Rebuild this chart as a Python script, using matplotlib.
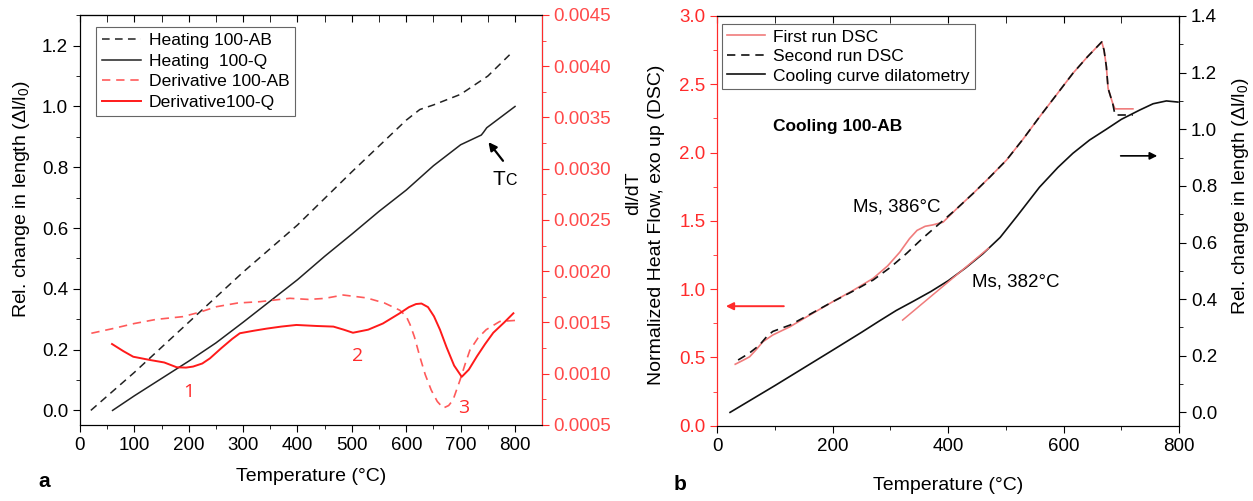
import matplotlib
matplotlib.use("Agg")
import matplotlib.pyplot as plt
from matplotlib.ticker import MultipleLocator

plt.rcParams['font.family'] = ['Liberation Sans', 'DejaVu Sans']
plt.rcParams['mathtext.fontset'] = 'custom'
plt.rcParams['mathtext.rm'] = 'Liberation Sans'
plt.rcParams['mathtext.it'] = 'Liberation Sans:italic'

RED = '#ff2b2b'
PINK = '#f07c7c'

# ---- panel a: heating dilatometry ----
heat_ab_T = [20, 100, 200, 300, 400, 500, 550, 600, 625, 650, 700, 750, 790]
heat_ab_L = [0.0, 0.125, 0.29, 0.455, 0.61, 0.785, 0.87, 0.955, 0.99, 1.005, 1.04, 1.10, 1.17]

heat_q_T = [60, 100, 150, 200, 250, 300, 350, 400, 450, 500, 550, 600, 650, 700, 738, 742, 748, 800]
heat_q_L = [0.0, 0.048, 0.105, 0.162, 0.222, 0.29, 0.36, 0.43, 0.507, 0.58, 0.655, 0.725, 0.805,
            0.874, 0.906, 0.915, 0.93, 1.0]

der_ab_T = [21, 60, 100, 140, 189, 220, 251, 290, 331, 386, 420, 450, 484, 527, 560, 588, 600,
            607, 615, 625, 635, 646, 657, 668, 678, 686, 699, 708, 717, 732, 747, 772, 800]
der_ab_D = [0.001395, 0.00144, 0.00149, 0.00153, 0.001557, 0.0016, 0.001654, 0.00169, 0.001703,
            0.001736, 0.001725, 0.001735, 0.001768, 0.00174, 0.00169, 0.00162, 0.00156, 0.00148,
            0.00136, 0.001166, 0.00099, 0.00084, 0.00073, 0.000665, 0.00069, 0.000744, 0.00094,
            0.00109, 0.00123, 0.00135, 0.00143, 0.00151, 0.00152]

der_q_T = [59, 80, 98, 129, 155, 178, 195, 208, 225, 239, 260, 280, 294, 320, 343, 370, 398, 435,
           466, 485, 502, 530, 557, 588, 605, 618, 628, 640, 651, 662, 674, 688, 702, 715, 730, 745,
           760, 780, 797]
der_q_D = [0.00129, 0.00122, 0.001166, 0.001134, 0.00111, 0.001063, 0.00106, 0.00107, 0.0011,
           0.00115, 0.00125, 0.00134, 0.001395, 0.00142, 0.00144, 0.00146, 0.001476, 0.001466,
           0.00146, 0.00143, 0.0014, 0.00143, 0.00149, 0.00159, 0.00165, 0.00168, 0.001685,
           0.00165, 0.00156, 0.00143, 0.00126, 0.00108, 0.00097, 0.00104, 0.00117, 0.00129,
           0.0014, 0.0015, 0.00159]

# ---- panel b: cooling DSC + dilatometry ----
dsc1_T = [31, 45, 56, 68, 79, 96, 126, 160, 200, 235, 270, 295, 316, 333, 346, 360, 373, 391,
          415, 443, 472, 501, 530, 558, 587, 616, 641, 666, 670, 674, 677, 685, 689, 720]
dsc1_H = [0.45, 0.48, 0.505, 0.56, 0.615, 0.664, 0.725, 0.81, 0.908, 0.99, 1.079, 1.17, 1.27,
          1.37, 1.43, 1.46, 1.47, 1.49, 1.59, 1.70, 1.82, 1.945, 2.10, 2.26, 2.42, 2.58, 2.70,
          2.81, 2.75, 2.63, 2.47, 2.36, 2.32, 2.32]

dsc2_T = [36, 55, 73, 85, 96, 126, 160, 200, 235, 270, 300, 328, 355, 385, 415, 443, 472, 501,
          530, 558, 587, 616, 641, 666, 670, 674, 677, 685, 689, 720]
dsc2_H = [0.481, 0.53, 0.59, 0.65, 0.69, 0.737, 0.815, 0.908, 0.985, 1.067, 1.16, 1.262, 1.37,
          1.48, 1.59, 1.70, 1.82, 1.945, 2.10, 2.26, 2.42, 2.58, 2.70, 2.81, 2.75, 2.63, 2.47,
          2.36, 2.275, 2.275]

cool_T = [22, 100, 200, 250, 280, 310, 340, 370, 400, 430, 460, 490, 520, 558, 590, 616, 645,
          674, 700, 732, 755, 778, 798]
cool_L = [0.0, 0.095, 0.22, 0.283, 0.322, 0.36, 0.393, 0.427, 0.465, 0.51, 0.56, 0.618, 0.695,
          0.795, 0.865, 0.915, 0.962, 1.0, 1.035, 1.068, 1.09, 1.10, 1.096]

tangent_T = [321, 470]
tangent_L = [0.326, 0.58]

fig = plt.figure(figsize=(12.53, 5.01), dpi=100)

# ================= panel a =================
ax1 = fig.add_axes([0.0638, 0.1517, 0.3685, 0.8184])
ax1r = ax1.twinx()

l1, = ax1.plot(heat_ab_T, heat_ab_L, color='#222222', lw=1.1, ls=(0, (5, 3.5)), label='Heating 100-AB')
l2, = ax1.plot(heat_q_T, heat_q_L, color='#222222', lw=1.1, label='Heating  100-Q')
l3, = ax1r.plot(der_ab_T, der_ab_D, color='#ff5a5a', lw=1.2, ls=(0, (5, 3.5)), label='Derivative 100-AB')
l4, = ax1r.plot(der_q_T, der_q_D, color='#ff1a1a', lw=1.4, label='Derivative100-Q')

ax1.set_xlim(0, 849)
ax1.set_ylim(-0.048, 1.301)
ax1r.set_ylim(0.0005, 0.0045)

ax1.xaxis.set_minor_locator(MultipleLocator(50))
ax1.yaxis.set_minor_locator(MultipleLocator(0.1))
ax1r.yaxis.set_major_locator(MultipleLocator(0.0005))
ax1r.yaxis.set_minor_locator(MultipleLocator(0.00025))
ax1.set_xticks([0, 100, 200, 300, 400, 500, 600, 700, 800])
ax1.set_yticks([0.0, 0.2, 0.4, 0.6, 0.8, 1.0, 1.2])
ax1.yaxis.set_major_formatter(lambda v, p: f'{v:.1f}')
ax1r.yaxis.set_major_formatter(lambda v, p: f'{v:.4f}')

ax1.tick_params(axis='both', which='major', direction='out', length=5, labelsize=13.5)
ax1.tick_params(axis='both', which='minor', direction='out', length=3)
ax1r.tick_params(axis='y', which='major', direction='out', length=5, labelsize=13.5,
                 colors=RED, labelcolor='#ff4a4a')
ax1r.tick_params(axis='y', which='minor', direction='out', length=3, colors=RED)
ax1r.spines['right'].set_color(RED)
top1 = ax1.secondary_xaxis('top')
top1.xaxis.set_major_locator(MultipleLocator(100))
top1.xaxis.set_minor_locator(MultipleLocator(50))
top1.tick_params(which='major', direction='in', length=5, labeltop=False)
top1.tick_params(which='minor', direction='in', length=5)

ax1.set_xlabel('Temperature (°C)', fontsize=14, labelpad=10)
ax1.set_ylabel(r'Rel. change in length ($\Delta$l/l$_0$)', fontsize=14)
ax1.yaxis.set_label_coords(-0.103, 0.55)
ax1r.set_ylabel('dl/dT', fontsize=14)
ax1r.yaxis.set_label_coords(1.18, 0.566)

ax1.legend(handles=[l1, l2, l3, l4], loc='upper left', bbox_to_anchor=(0.035, 0.971),
           borderaxespad=0, fontsize=12.6, frameon=True, fancybox=False, framealpha=1,
           edgecolor='#666666', handlelength=2.2, labelspacing=0.3, handletextpad=0.45,
           borderpad=0.35).get_frame().set_linewidth(0.8)

ax1.text(200, 0.06, '1', color=RED, fontsize=14, ha='center', va='center', family='Open Sans')
ax1.text(510, 0.179, '2', color=RED, fontsize=14, ha='center', va='center', family='Open Sans')
ax1.text(706, 0.008, '3', color=RED, fontsize=14, ha='center', va='center', family='Open Sans')
ax1.annotate('', xy=(748, 0.89), xytext=(781, 0.814),
             arrowprops=dict(arrowstyle='-|>', color='black', lw=1.6, mutation_scale=12))
ax1.text(759, 0.742, 'T', fontsize=15, ha='left', va='baseline')
ax1.text(782, 0.742, 'C', fontsize=11.5, ha='left', va='baseline')

fig.text(0.035, 0.038, 'a', fontsize=15, fontweight='bold', ha='center', va='center')

# ================= panel b =================
ax2 = fig.add_axes([0.5725, 0.1503, 0.3685, 0.8178])
ax2r = ax2.twinx()

m1, = ax2.plot(dsc1_T, dsc1_H, color=PINK, lw=1.2, label='First run DSC')
m2, = ax2.plot(dsc2_T, dsc2_H, color='#111111', lw=1.2, ls=(0, (5, 3.5)), label='Second run DSC')
m3, = ax2r.plot(cool_T, cool_L, color='#111111', lw=1.2, label='Cooling curve dilatometry')
ax2r.plot(tangent_T, tangent_L, color=PINK, lw=1.1)

ax2.set_xlim(0, 800)
ax2.set_ylim(0, 3.0)
ax2r.set_ylim(-0.047, 1.4)

ax2.xaxis.set_major_locator(MultipleLocator(200))
ax2.xaxis.set_minor_locator(MultipleLocator(100))
ax2.yaxis.set_major_locator(MultipleLocator(0.5))
ax2.yaxis.set_minor_locator(MultipleLocator(0.25))
ax2r.set_yticks([0.0, 0.2, 0.4, 0.6, 0.8, 1.0, 1.2, 1.4])
ax2r.yaxis.set_minor_locator(MultipleLocator(0.1))
ax2.yaxis.set_major_formatter(lambda v, p: f'{v:.1f}')
ax2r.yaxis.set_major_formatter(lambda v, p: f'{v:.1f}')

ax2.tick_params(axis='x', which='major', direction='out', length=5, labelsize=13.5)
ax2.tick_params(axis='x', which='minor', direction='out', length=3)
ax2.tick_params(axis='y', which='major', direction='out', length=5, labelsize=13.5,
                colors=RED, labelcolor=RED)
ax2.tick_params(axis='y', which='minor', direction='out', length=3, colors=RED)
ax2r.tick_params(axis='y', which='major', direction='out', length=5, labelsize=13.5)
ax2r.tick_params(axis='y', which='minor', direction='out', length=3)
ax2.spines['left'].set_color(RED)
ax2r.spines['left'].set_color(RED)
top2 = ax2.secondary_xaxis('top')
top2.xaxis.set_major_locator(MultipleLocator(200))
top2.xaxis.set_minor_locator(MultipleLocator(100))
top2.tick_params(which='major', direction='in', length=5, labeltop=False)
top2.tick_params(which='minor', direction='in', length=5)

ax2.set_xlabel('Temperature (°C)', fontsize=14, labelpad=16)
ax2.set_ylabel('Normalized Heat Flow, exo up (DSC)', fontsize=14)
ax2.yaxis.set_label_coords(-0.113, 0.49)
ax2r.set_ylabel(r'Rel. change in length ($\Delta$l/l$_0$)', fontsize=14)
ax2r.yaxis.set_label_coords(1.11, 0.56)

ax2.legend(handles=[m1, m2, m3], loc='upper left', bbox_to_anchor=(0.010, 0.980),
           borderaxespad=0, fontsize=12.5, frameon=True, fancybox=False, framealpha=1,
           edgecolor='#666666', handlelength=2.2, labelspacing=0.25, handletextpad=0.45,
           borderpad=0.3).get_frame().set_linewidth(0.8)

ax2.text(96, 2.19, 'Cooling 100-AB', fontsize=12.5, fontweight='bold', ha='left', va='center')
ax2.text(235, 1.60, 'Ms, 386°C', fontsize=13.5, ha='left', va='center')
ax2.text(441, 1.054, 'Ms, 382°C', fontsize=13.5, ha='left', va='center')
ax2.annotate('', xy=(10, 0.875), xytext=(120, 0.875),
             arrowprops=dict(arrowstyle='-|>', color=RED, lw=1.4, mutation_scale=11))
ax2r.annotate('', xy=(767, 0.906), xytext=(694, 0.906),
              arrowprops=dict(arrowstyle='-|>', color='black', lw=1.2, mutation_scale=11))

fig.text(0.543, 0.032, 'b', fontsize=15, fontweight='bold', ha='center', va='center')

fig.savefig('out.png', dpi=100)
